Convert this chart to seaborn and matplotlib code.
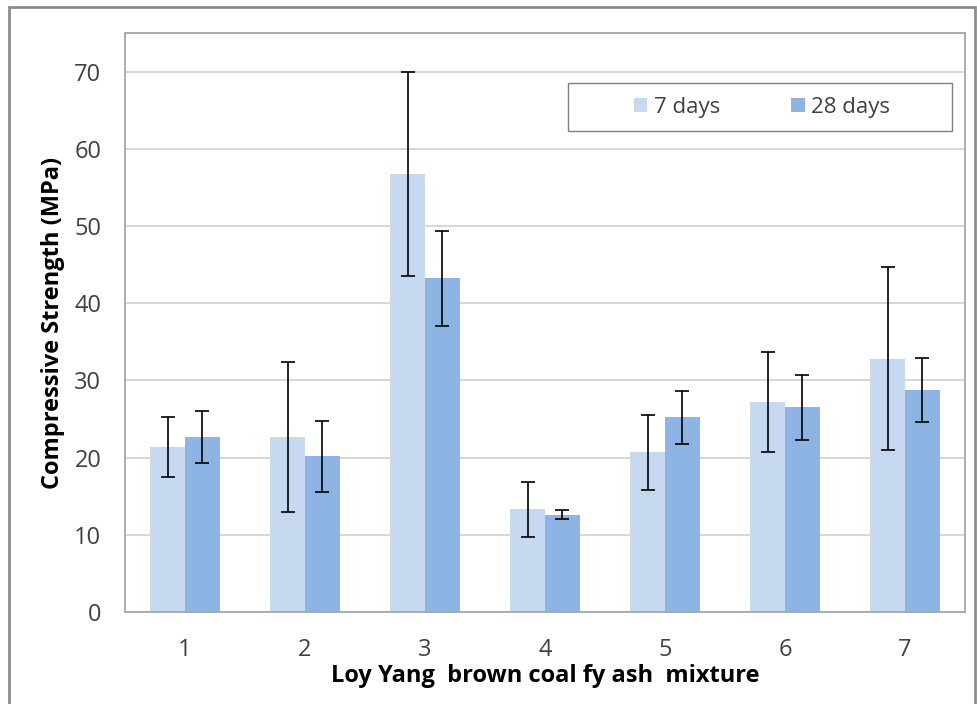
import matplotlib
matplotlib.use("Agg")
import matplotlib.pyplot as plt
import seaborn as sns
import pandas as pd
import numpy as np
from matplotlib.patches import Rectangle

mixtures = ["1", "2", "3", "4", "5", "6", "7"]
series_names = ["7 days", "28 days"]
strength_7d = [21.4, 22.7, 56.7, 13.3, 20.7, 27.2, 32.8]
strength_28d = [22.7, 20.2, 43.2, 12.6, 25.2, 26.5, 28.8]
err_7d = [3.85, 9.7, 13.2, 3.6, 4.85, 6.45, 11.85]
err_28d = [3.4, 4.6, 6.2, 0.55, 3.4, 4.2, 4.15]
y_ticks = [0, 10, 20, 30, 40, 50, 60, 70]

df = pd.DataFrame({
    "mixture": mixtures * 2,
    "series": [series_names[0]] * len(mixtures) + [series_names[1]] * len(mixtures),
    "strength": strength_7d + strength_28d,
})

sns.set_theme(style="white")
plt.rcParams["font.family"] = ["Open Sans", "DejaVu Sans"]

fig = plt.figure(figsize=(9.78, 7.04), dpi=100)
ax = fig.add_axes([125 / 978, 1 - 612 / 704, 840 / 978, (612 - 33) / 704])

colors = ["#C6D9F1", "#8EB4E3"]
sns.barplot(data=df, x="mixture", y="strength", hue="series", order=mixtures,
            hue_order=series_names, palette=colors, width=0.58, errorbar=None,
            saturation=1, ax=ax, edgecolor="none", linewidth=0)

# error bars at bar centres
errs = {series_names[0]: err_7d, series_names[1]: err_28d}
vals = {series_names[0]: strength_7d, series_names[1]: strength_28d}
for container, name in zip(ax.containers, series_names):
    xs = [p.get_x() + p.get_width() / 2 for p in container.patches]
    ax.errorbar(xs, vals[name], yerr=errs[name], fmt="none", ecolor="black",
                elinewidth=1.2, capsize=5, capthick=1.2, zorder=5)

ax.set_ylim(0, 75)
ax.set_xlim(-0.5, 6.5)
ax.set_yticks(y_ticks)
ax.set_yticklabels([str(t) for t in y_ticks], fontsize=17, color="#404040")
ax.set_xticklabels(mixtures, fontsize=17, color="#404040")
ax.tick_params(axis="y", length=0, pad=17)
ax.tick_params(axis="x", length=0, pad=19)
ax.yaxis.grid(True, color="#D0D0D0", linewidth=1.2)
ax.set_axisbelow(True)
for s in ax.spines.values():
    s.set_color("#A6A6A6")
    s.set_linewidth(1.3)

ax.set_ylabel("Compressive Strength (MPa)", fontsize=17, fontweight="bold",
              color="black", labelpad=7)
ax.set_xlabel("Loy Yang  brown coal fy ash  mixture", fontsize=17,
              fontweight="bold", color="black", labelpad=1)

# legend (centred inside a fixed frame)
leg = ax.legend(loc="center", bbox_to_anchor=(762 / 978, 1 - 107 / 704),
                bbox_transform=fig.transFigure, ncol=2, frameon=False,
                fontsize=16, handlelength=0.6, handleheight=0.6,
                handletextpad=0.3, columnspacing=3.2, borderpad=0,
                borderaxespad=0)
leg.set_title(None)
for t in leg.get_texts():
    t.set_color("#404040")
fig.patches.append(Rectangle((568 / 978, 1 - 131 / 704), (952 - 568) / 978, 48 / 704,
                             transform=fig.transFigure, fill=False,
                             edgecolor="#7F7F7F", linewidth=1.0))

fig.patches.append(Rectangle((9 / 978, -0.01), (975 - 9) / 978, 1 - 7 / 704 + 0.01,
                             transform=fig.transFigure, fill=False,
                             edgecolor="#8C8C8C", linewidth=2))

fig.savefig("out.png", dpi=100)
